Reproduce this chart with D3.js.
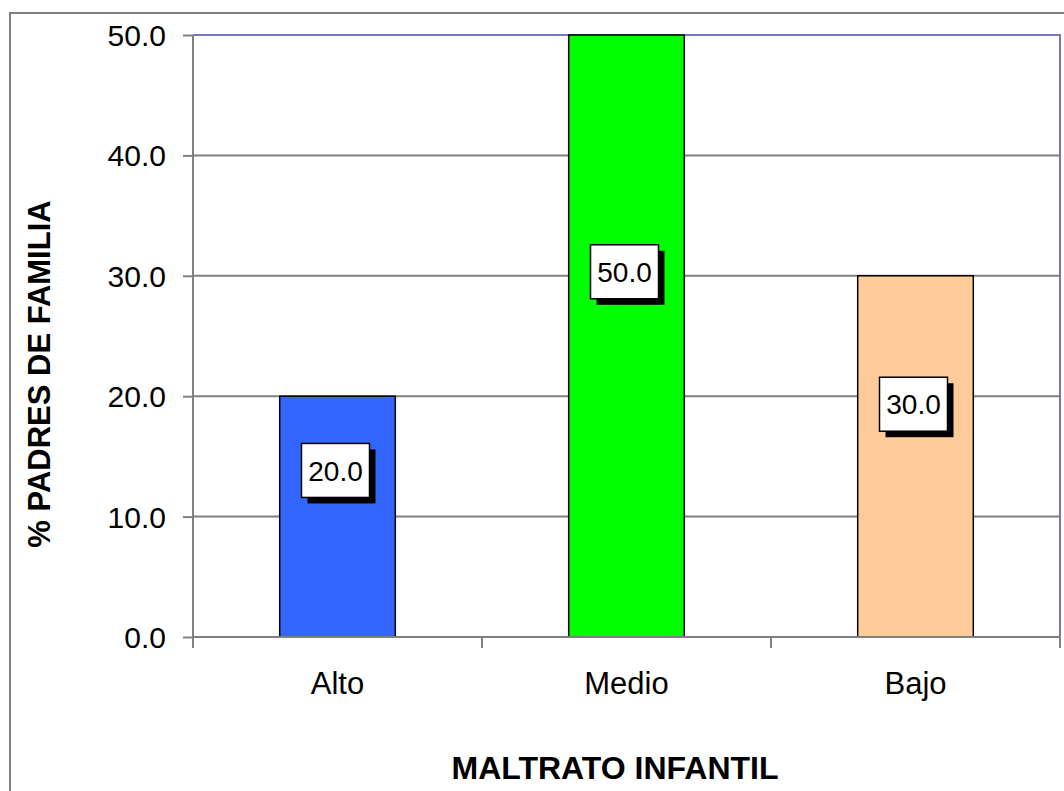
<!DOCTYPE html>
<head>
  <meta charset="utf-8">
  <script src="https://cdnjs.cloudflare.com/ajax/libs/d3/7.8.5/d3.min.js"></script>
</head>

<style>
  body { margin: 0; background: #fff; }
  text { font-family: "Liberation Sans", Arial, sans-serif; fill: #000; }
  .y_axis path { display: none; }
  .y_axis line { stroke: #808080; stroke-width: 2; }
  .y_axis text { font-size: 30px; }
  .grid line { stroke: #808080; stroke-width: 2; }
  .bar { stroke: #000; stroke-width: 1.5; }
</style>

<body>
  <svg width="1064" height="791" class="my_bar"></svg>

  <script>
  // data
  let categories = ["Alto", "Medio", "Bajo"];
  let values = [20.0, 50.0, 30.0];
  let colors = ["#3366ff", "#00ff00", "#ffcc99"];
  let yTicks = [0, 10, 20, 30, 40, 50];

  let svg = d3.select(".my_bar");

  // outer chart frame
  svg.append("rect")
      .attr("x", 10).attr("y", 13)
      .attr("width", 1080).attr("height", 800)
      .attr("fill", "none")
      .attr("stroke", "#808080")
      .attr("stroke-width", 2);

  let margin = {top: 35, right: 4, bottom: 154, left: 193},
      width = 1064 - margin.left - margin.right,
      height = 791 - margin.top - margin.bottom;

  let x = d3.scaleBand().domain(categories).range([0, width])
      .paddingInner(0.6).paddingOuter(0.3);
  let y = d3.scaleLinear().domain([0, 50]).range([height, 0]);

  let g = svg.append("g")
      .attr("transform", "translate(" + margin.left + "," + margin.top + ")");

  // gridlines
  g.append("g").attr("class", "grid")
    .selectAll("line")
    .data(yTicks.filter(function(d) { return d > 0 && d < 50; }))
    .enter().append("line")
      .attr("x1", 0).attr("x2", width)
      .attr("y1", function(d) { return y(d); })
      .attr("y2", function(d) { return y(d); });

  // plot border top/right
  g.append("path")
      .attr("d", "M0," + y(50) + "H" + width + "V" + y(0))
      .attr("fill", "none")
      .attr("stroke", "#7777bb")
      .attr("stroke-width", 2);

  // y axis
  let yAxis = g.append("g")
      .attr("class", "axis y_axis")
      .call(d3.axisLeft(y).tickValues(yTicks).tickFormat(d3.format(".1f"))
        .tickSize(10).tickPadding(17));
  yAxis.selectAll("text").attr("dy", "0.35em");

  g.append("line")
      .attr("x1", 0).attr("x2", 0)
      .attr("y1", y(50)).attr("y2", y(0))
      .attr("stroke", "#808080").attr("stroke-width", 2);

  // bars
  g.selectAll(".bar")
    .data(values)
    .enter().append("rect")
      .attr("class", "bar")
      .attr("x", function(d, i) { return x(categories[i]); })
      .attr("y", function(d) { return y(d); })
      .attr("width", x.bandwidth())
      .attr("height", function(d) { return y(0) - y(d); })
      .attr("fill", function(d, i) { return colors[i]; });

  // x axis
  g.append("line")
      .attr("x1", 0).attr("x2", width)
      .attr("y1", y(0)).attr("y2", y(0))
      .attr("stroke", "#808080").attr("stroke-width", 2);

  let step = x.step();
  let bounds = [0].concat(categories.map(function(c) { return x(c) + x.bandwidth() + step * x.paddingInner() / 2; }));
  g.selectAll(".xtick")
    .data(bounds)
    .enter().append("line")
      .attr("x1", function(d) { return d; })
      .attr("x2", function(d) { return d; })
      .attr("y1", y(0)).attr("y2", y(0) + 11)
      .attr("stroke", "#808080").attr("stroke-width", 2);

  g.selectAll(".xlabel")
    .data(categories)
    .enter().append("text")
      .attr("x", function(d) { return x(d) + x.bandwidth() / 2; })
      .attr("y", y(0) + 57)
      .attr("text-anchor", "middle")
      .style("font-size", "31px")
      .text(function(d) { return d; });

  // data labels
  let boxW = 68, boxH = 54, shadow = 6;
  let labels = g.selectAll(".dlabel")
    .data(values)
    .enter().append("g")
      .attr("transform", function(d, i) {
        let cx = x(categories[i]) + x.bandwidth() / 2 - 2;
        let cy = y(3 + 0.55 * d) + 2;
        return "translate(" + cx + "," + cy + ")";
      });
  labels.append("rect")
      .attr("x", -boxW / 2 + shadow).attr("y", -boxH / 2 + shadow)
      .attr("width", boxW).attr("height", boxH)
      .attr("fill", "#000");
  labels.append("rect")
      .attr("x", -boxW / 2).attr("y", -boxH / 2)
      .attr("width", boxW).attr("height", boxH)
      .attr("fill", "#fff").attr("stroke", "#000").attr("stroke-width", 1.5);
  labels.append("text")
      .attr("text-anchor", "middle")
      .attr("dy", "0.36em")
      .style("font-size", "28px")
      .text(function(d) { return d3.format(".1f")(d); });

  // axis titles
  svg.append("text")
      .attr("x", 615).attr("y", 779)
      .attr("text-anchor", "middle")
      .style("font-size", "32px").style("font-weight", "bold")
      .text("MALTRATO INFANTIL");

  svg.append("text")
      .attr("transform", "translate(50,374) rotate(-90)")
      .attr("text-anchor", "middle")
      .style("font-size", "31px").style("font-weight", "bold")
      .text("% PADRES DE FAMILIA");
  </script>
</body>
</html>
